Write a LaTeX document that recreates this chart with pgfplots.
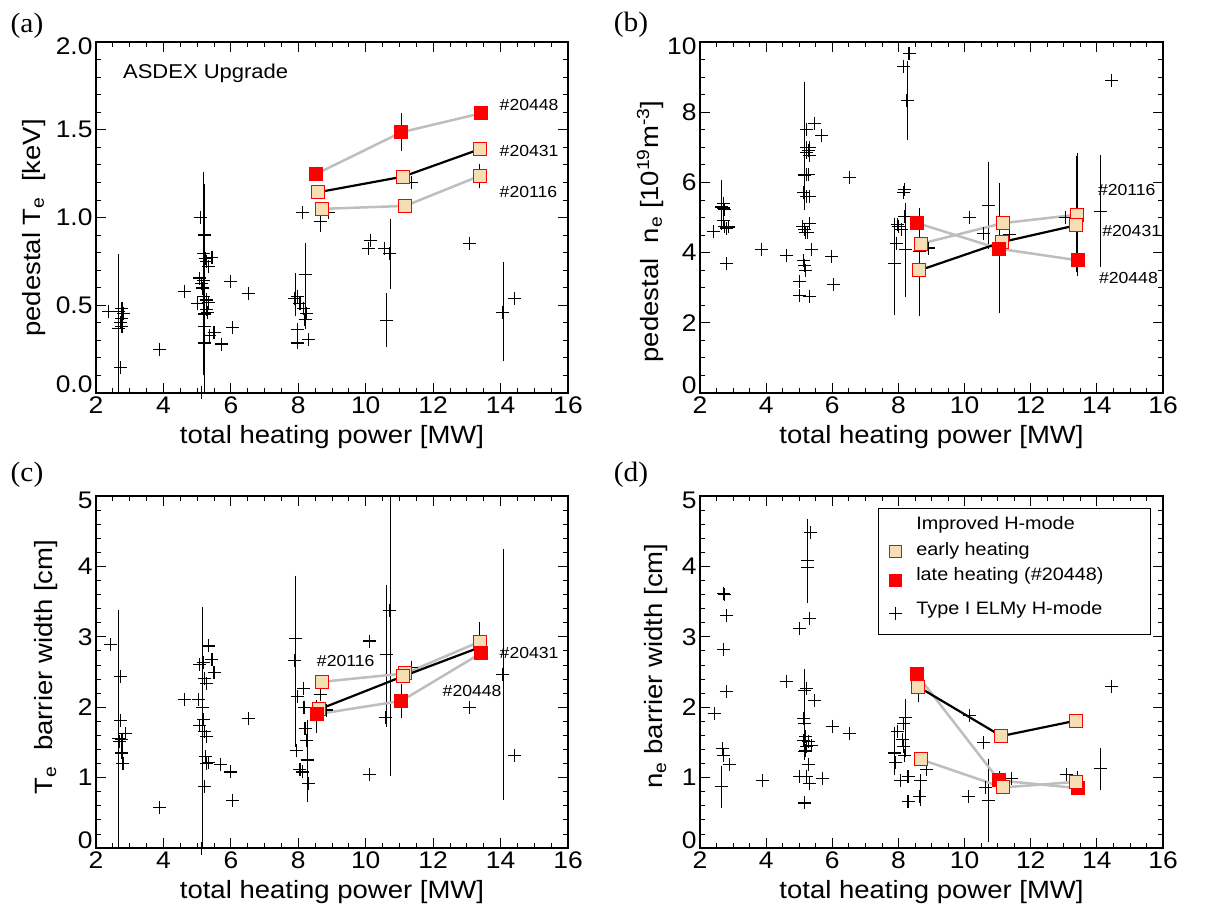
\documentclass[border=0pt]{standalone}
\usepackage{fontspec}
\setmainfont{Liberation Sans}[FakeStretch=1.1]
\newfontfamily\serifa{Liberation Serif}[FakeStretch=1.05]
\usepackage{pgfplots}
\pgfplotsset{compat=1.18}
\definecolor{wheat}{RGB}{245,222,179}
\definecolor{lgray}{RGB}{190,190,190}
\newcommand\ticksize{\fontsize{24}{28}\selectfont}
\newcommand\labsize{\fontsize{25}{29}\selectfont}
\newcommand\annsize{\fontsize{16}{19}\selectfont}
\newcommand\legsize{\fontsize{18}{21}\selectfont}
\pgfplotsset{
  base/.style={
    scale only axis, anchor=south west,
    xmin=2, xmax=16, xtick={2,4,...,16}, minor x tick num=3,
    tick align=inside, major tick length=10pt, minor tick length=5pt,
    every tick/.style={black, line width=0.8pt},
    axis line style={line width=1.1pt},
    tick label style={font=\ticksize},
    /pgf/number format/assume math mode=true,
    xlabel={total heating power [MW]},
    xlabel style={font=\labsize, yshift=-5pt},
    every axis y label/.style={rotate=90, anchor=center, font=\labsize},
  },
  yends/.style={yticklabel={\ifnum\ticknum=0 \smash{\pgfmathprintnumber{\tick}}\else\ifnum\ticknum=#1 \smash{\raisebox{-12.5pt}{\pgfmathprintnumber{\tick}}}\else\pgfmathprintnumber{\tick}\fi\fi}},
  cross/.style={only marks, mark=+, mark size=6.5pt, black, mark options={line width=1.1pt}},
  errp/.style={only marks, mark=+, mark size=6.5pt, black, mark options={line width=1.1pt},
    error bars/y dir=both, error bars/y explicit, error bars/error mark=-,
    error bars/error bar style={line width=0.8pt, black},
    error bars/error mark options={line width=0.8pt, mark size=3.5pt, black}},
  errn/.style={only marks, mark=none, black,
    error bars/y dir=both, error bars/y explicit, error bars/error mark=-,
    error bars/error bar style={line width=0.8pt, black},
    error bars/error mark options={line width=0.8pt, mark size=3.5pt, black}},
  early/.style={only marks, mark=square*, mark size=6.5pt, mark options={fill=wheat, draw=red, line width=1pt}},
  late/.style={only marks, mark=square*, mark size=6.5pt, mark options={fill=red, draw=red, line width=1pt}},
  bline/.style={black, line width=2.2pt, mark=none},
  gline/.style={lgray, line width=2.5pt, mark=none},
}
\begin{document}
\begin{tikzpicture}
\useasboundingbox (0,0) rectangle (1225pt,914pt);
% ---------------- (a)
\begin{axis}[base, at={(96pt,521pt)}, width=472pt, height=351pt,
  ymin=0, ymax=2, ytick={0,0.5,...,2}, minor y tick num=4, yends=4,
  yticklabel style={/pgf/number format/.cd, fixed, fixed zerofill, precision=1},
  ylabel={pedestal T\textsubscript{e}\ \ [keV]},
  every axis y label/.append style={at={(axis description cs:-0.132,0.47)}}]
\addplot[cross] table {
x y
2.375 0.465
2.77 0.484
2.82 0.455
2.77 0.427
2.72 0.40
2.77 0.38
2.67 0.37
2.72 0.146
3.88 0.25
4.63 0.58
5.01 0.51
5.09 1.00
5.21 0.90
5.19 0.797
5.24 0.768
5.29 0.75
5.34 0.72
5.44 0.772
5.07 0.655
5.14 0.626
5.17 0.598
5.19 0.55
5.27 0.53
5.34 0.516
5.29 0.478
5.31 0.459
5.21 0.38
5.22 0.285
5.37 0.33
5.50 0.345
5.71 0.279
5.98 0.636
6.05 0.374
6.52 0.565
5.14 0.0
7.97 0.55
8.05 0.512
8.15 0.484
8.25 0.455
8.20 0.421
7.97 0.36
7.97 0.285
8.30 0.304
8.13 1.028
8.89 1.028
10.09 0.825
10.14 0.867
10.57 0.825
11.36 1.20
13.09 0.854
14.42 0.537
};
\addplot[errp] table[y error plus=ep, y error minus=em] {
x y ep em
2.67 0.465 0.305 0.6
5.19 0.64 0.60 0.52
5.22 0.45 0.72 0.55
7.90 0.541 0.12 0.085
8.22 0.674 0.16 0.29
8.66 0.977 0.0 0.04
10.72 0.793 0.18 0.18
10.62 0.414 0.135 0.13
14.07 0.461 0.265 0.26
};
\addplot[errn] table[y error plus=ep, y error minus=em] {
x y ep em
11.06 1.486 0.09 0.086
13.38 1.237 0.05 0.05
};
\addplot[gline] coordinates {(8.69,1.049) (11.17,1.066) (13.38,1.237)};
\addplot[gline] coordinates {(8.54,1.249) (11.06,1.486) (13.43,1.594)};
\addplot[bline] coordinates {(8.59,1.144) (11.11,1.233) (13.38,1.389)};
\addplot[early] coordinates {(8.69,1.049) (11.17,1.066) (13.38,1.237) (8.59,1.144) (11.11,1.233) (13.38,1.389)};
\addplot[late] coordinates {(8.54,1.249) (11.06,1.486) (13.43,1.594)};
\node[font=\fontsize{20}{24}\selectfont, anchor=west] at (axis cs:2.7,1.82) {ASDEX Upgrade};
\node[font=\annsize, anchor=west] at (axis cs:13.87,1.64) {\#20448};
\node[font=\annsize, anchor=west] at (axis cs:13.87,1.38) {\#20431};
\node[font=\annsize, anchor=west] at (axis cs:13.87,1.144) {\#20116};
\end{axis}
% ---------------- (b)
\begin{axis}[base, at={(700pt,521pt)}, width=463pt, height=351pt,
  ymin=0, ymax=10, ytick={0,2,...,10}, minor y tick num=3, yends=5,
  ylabel={pedestal\ \ n\textsubscript{e} [10\textsuperscript{19}m\textsuperscript{-3}]},
  every axis y label/.append style={at={(axis description cs:-0.108,0.46)}}]
\addplot[cross] table {
x y
2.40 4.61
2.70 5.41
2.70 5.27
2.75 5.22
2.70 4.92
2.75 4.75
2.80 4.70
2.85 4.73
2.79 3.68
3.86 4.10
4.62 3.93
5.02 3.18
5.00 2.78
5.32 2.75
5.14 3.78
5.17 3.63
5.20 3.49
5.10 4.75
5.15 4.65
5.20 4.58
5.25 4.56
5.30 4.82
5.14 5.70
5.22 5.60
5.32 5.60
5.17 6.22
5.22 6.22
5.27 6.22
5.22 7.00
5.27 6.92
5.32 7.00
5.22 6.84
5.30 6.76
5.22 7.50
5.47 7.69
5.68 7.33
5.37 4.08
5.98 3.89
6.03 3.08
6.51 6.14
7.94 4.27
7.97 4.80
8.00 4.75
8.09 4.65
8.17 5.03
8.17 5.79
8.16 5.72
8.16 9.29
8.32 9.67
8.64 4.04
8.90 4.13
10.16 5.01
10.56 4.54
11.37 4.51
13.06 4.99
14.44 8.91
};
\addplot[errp] table[y error plus=ep, y error minus=em] {
x y ep em
2.65 5.30 0.66 0.55
5.17 6.20 2.57 0.88
7.89 3.70 1.19 1.39
8.21 4.08 1.24 1.25
8.26 8.33 1.02 1.02
10.73 5.35 1.14 1.15
14.10 5.18 1.49 1.48
};
\addplot[errn] table[y error plus=ep, y error minus=em] {
x y ep em
8.62 3.49 1.68 1.19
11.06 4.11 1.76 1.74
};
\addplot[errn, error bars/error bar style={line width=1.8pt}] table[y error plus=ep, y error minus=em] {
x y ep em
13.40 4.78 1.96 1.34
};
\addplot[gline] coordinates {(8.67,4.25) (11.16,4.84) (13.40,5.08)};
\addplot[gline] coordinates {(8.57,4.84) (11.04,4.11) (13.43,3.78)};
\addplot[bline] coordinates {(8.62,3.49) (11.13,4.30) (13.38,4.78)};
\addplot[early] coordinates {(8.67,4.25) (11.16,4.84) (13.40,5.08) (8.62,3.49) (11.13,4.30) (13.38,4.78)};
\addplot[late] coordinates {(8.57,4.84) (11.04,4.11) (13.43,3.78)};
\node[font=\annsize, anchor=west] at (axis cs:13.93,5.79) {\#20116};
\node[font=\annsize, anchor=west] at (axis cs:14.06,4.62) {\#20431};
\node[font=\annsize, anchor=west] at (axis cs:13.96,3.28) {\#20448};
\end{axis}
% ---------------- (c)
\begin{axis}[base, at={(96pt,66pt)}, width=472pt, height=352pt,
  ymin=0, ymax=5, ytick={0,...,5}, minor y tick num=4, yends=5,
  ylabel={T\textsubscript{e}\ \ barrier width [cm]},
  every axis y label/.append style={at={(axis description cs:-0.106,0.514)}}]
\addplot[cross] table {
x y
2.44 2.89
2.74 2.44
2.72 1.81
2.77 1.54
2.70 1.51
2.87 1.63
2.77 1.35
2.80 1.20
3.88 0.58
4.63 2.11
5.07 2.61
5.04 2.11
5.08 1.74
5.19 2.64
5.22 2.41
5.29 2.34
5.34 2.87
5.44 2.68
5.50 2.49
5.19 1.82
5.29 1.58
5.22 1.66
5.24 1.30
5.29 1.20
5.34 1.21
5.21 0.88
5.14 0.0
5.68 1.18
6.00 1.08
6.05 0.68
6.52 1.84
7.92 2.98
7.97 2.15
8.15 2.26
8.17 2.00
8.20 1.70
8.25 1.53
7.95 1.39
8.05 1.11
8.12 1.08
8.30 0.91
8.67 2.18
8.84 1.96
10.10 2.94
10.12 1.05
10.58 1.85
11.36 2.57
13.09 1.99
14.42 1.31
};
\addplot[errp] table[y error plus=ep, y error minus=em] {
x y ep em
2.67 1.56 1.77 1.7
5.17 2.00 1.38 2.1
7.90 2.66 1.16 1.17
8.27 1.25 0.52 0.55
10.72 3.37 2.0 2.3
10.62 2.75 0.93 0.98
14.07 2.47 1.73 1.74
};
\addplot[errn] table[y error plus=ep, y error minus=em] {
x y ep em
8.55 1.90 0.15 0.22
11.06 2.09 0.19 0.19
13.38 2.93 0.23 0.0
};
\addplot[gline] coordinates {(8.69,2.36) (11.17,2.48) (13.38,2.93)};
\addplot[gline] coordinates {(8.55,1.90) (11.06,2.09) (13.43,2.77)};
\addplot[bline] coordinates {(8.62,1.97) (11.11,2.44) (13.38,2.85)};
\addplot[early] coordinates {(8.69,2.36) (11.17,2.48) (13.38,2.93) (8.62,1.97) (11.11,2.44)};
\addplot[late] coordinates {(8.55,1.90) (11.06,2.09) (13.43,2.77)};
\node[font=\annsize, anchor=west] at (axis cs:8.45,2.66) {\#20116};
\node[font=\annsize, anchor=west] at (axis cs:13.87,2.77) {\#20431};
\node[font=\annsize, anchor=west] at (axis cs:12.18,2.23) {\#20448};
\end{axis}
% ---------------- (d)
\begin{axis}[base, at={(700pt,66pt)}, width=463pt, height=352pt,
  ymin=0, ymax=5, ytick={0,...,5}, minor y tick num=4, yends=5,
  ylabel={n\textsubscript{e} barrier width [cm]},
  every axis y label/.append style={at={(axis description cs:-0.095,0.517)}},
  legend cell align=left,
  legend style={at={(0.384,0.965)}, anchor=north west, draw=black, line width=1pt,
    font=\legsize, inner xsep=9pt, inner ysep=5pt, row sep=1.5pt,
    nodes={text depth=, inner sep=2pt}}]
\addlegendimage{empty legend}
\addlegendentry{\hspace{12pt}Improved H-mode\rule[-6pt]{0pt}{20pt}}
\addlegendimage{only marks, mark=square*, mark size=6pt, mark options={fill=wheat, draw=red, line width=1pt}}
\addlegendentry{\hspace{12pt}early heating\rule[-6pt]{0pt}{20pt}}
\addlegendimage{only marks, mark=square*, mark size=6pt, mark options={fill=red, draw=red}}
\addlegendentry{\hspace{12pt}late heating (\#20448)\rule{36pt}{0pt}\rule[-14pt]{0pt}{28pt}}
\addlegendimage{only marks, mark=+, mark size=6.5pt, black, mark options={line width=1.1pt}}
\addlegendentry{\hspace{12pt}Type I ELMy H-mode\rule[-13pt]{0pt}{27pt}}
\addplot[cross, forget plot] table {
x y
2.45 1.91
2.70 3.62
2.75 3.60
2.81 3.30
2.70 2.82
2.79 2.22
2.68 1.41
2.72 1.31
2.88 1.18
3.88 0.955
4.62 2.37
5.02 3.12
5.30 3.26
5.25 3.98
5.34 4.48
5.17 2.24
5.22 2.26
5.47 2.10
5.14 1.84
5.20 1.58
5.14 1.53
5.27 1.51
5.22 1.44
5.20 1.39
5.17 1.37
5.37 1.45
5.27 1.19
5.30 0.92
5.02 1.02
5.22 1.02
5.17 0.64
5.70 0.99
6.00 1.73
6.51 1.63
7.92 1.21
7.96 1.66
8.14 1.44
8.19 1.32
8.16 1.77
8.12 1.54
8.29 1.01
8.06 0.96
8.29 0.66
8.67 0.96
8.85 1.12
10.16 1.88
10.58 1.50
10.11 0.73
10.64 0.86
11.42 0.99
13.08 1.05
14.44 2.30
};
\addplot[errp, forget plot] table[y error plus=ep, y error minus=em] {
x y ep em
2.65 0.87 0.25 0.25
5.24 4.08 0.54 0.55
5.17 1.77 0.72 0.47
7.89 1.35 0.32 0.27
8.22 1.86 0.20 0.52
8.65 0.73 0.09 0.09
10.71 0.68 0.54 0.54
14.10 1.13 0.24 0.25
};
\addplot[errn, forget plot] table[y error plus=ep, y error minus=em] {
x y ep em
8.60 2.29 0.0 0.17
11.04 0.96 0.09 0.0
13.40 0.94 0.11 0.0
};
\addplot[gline, forget plot] coordinates {(8.67,1.26) (11.16,0.86) (13.38,0.94)};
\addplot[gline, forget plot] coordinates {(8.55,2.47) (11.04,0.96) (13.43,0.85)};
\addplot[bline, forget plot] coordinates {(8.60,2.29) (11.11,1.59) (13.38,1.81)};
\addplot[late, forget plot] coordinates {(8.55,2.47) (11.04,0.96) (13.43,0.85)};
\addplot[early, forget plot] coordinates {(8.67,1.26) (11.16,0.86) (13.38,0.94) (8.60,2.29) (11.11,1.59) (13.38,1.81)};
\end{axis}
\node[font=\serifa\fontsize{28}{32}\selectfont] at (27pt,888pt) {(a)};
\node[font=\serifa\fontsize{28}{32}\selectfont] at (631pt,889pt) {(b)};
\node[font=\serifa\fontsize{28}{32}\selectfont] at (27pt,439pt) {(c)};
\node[font=\serifa\fontsize{28}{32}\selectfont] at (631pt,439pt) {(d)};
\end{tikzpicture}
\end{document}
